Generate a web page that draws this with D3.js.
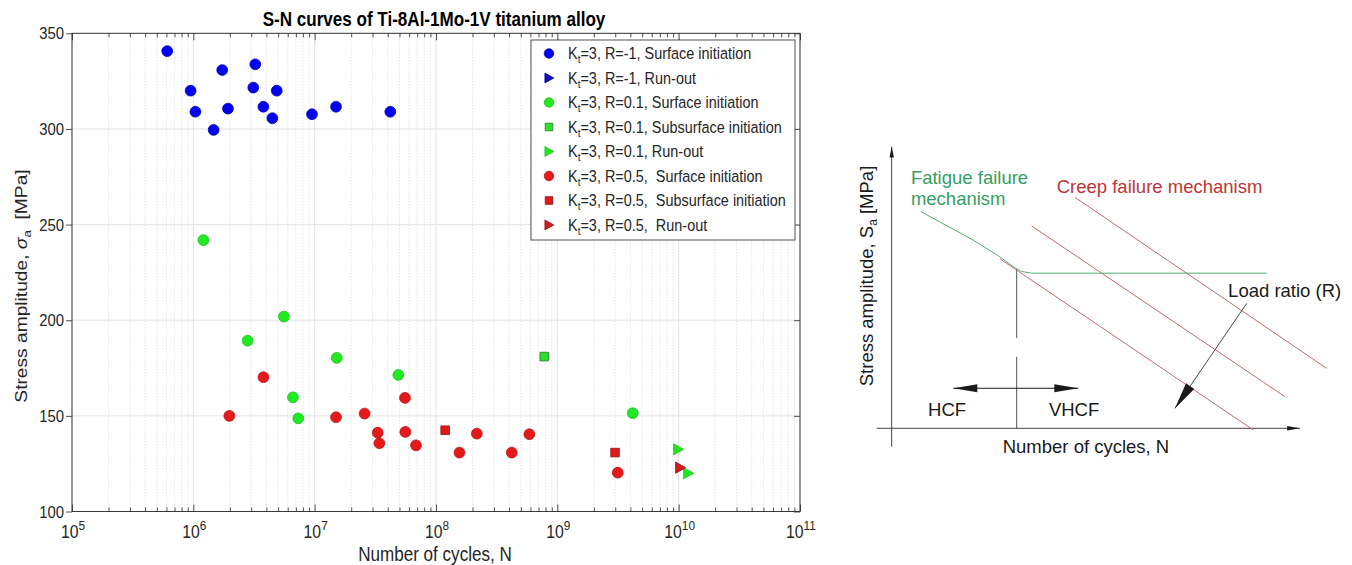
<!DOCTYPE html>
<html><head><meta charset="utf-8">
<script src="https://cdn.jsdelivr.net/npm/d3@7"></script>
<style>
body{margin:0;background:#fff;}
svg{display:block;font-family:"Liberation Sans",Arial,Helvetica,sans-serif;}
text{white-space:pre;}
</style></head><body>
<svg id="c" width="1352" height="565"></svg>
<script>
// ---------------- DATA (left chart) ----------------
const xTicks = [1e5, 1e6, 1e7, 1e8, 1e9, 1e10, 1e11];
const xTickExps = ["5", "6", "7", "8", "9", "10", "11"];
const yTicks = [100, 150, 200, 250, 300, 350];
// [cycles N, stress amplitude MPa]
const r1Surface = [[6.09e5,340.7],[9.5e5,320],[1.04e6,309],[1.47e6,299.5],[1.73e6,330.8],[1.93e6,310.6],[3.12e6,321.6],[3.24e6,333.8],[3.78e6,311.6],[4.48e6,305.6],[4.87e6,320],[9.5e6,307.7],[1.5e7,311.6],[4.2e7,309]];
const r1Runout = [];
const r01Surface = [[1.21e6,241.9],[2.8e6,189.3],[5.58e6,201.9],[6.62e6,159.7],[7.33e6,148.7],[1.52e7,180.3],[4.89e7,171.4],[4.18e9,151.4]];
const r01Subsurface = [[7.8e8,181]];
const r01Runout = [[9.9e9,132.5],[1.2e10,120]];
const r05Surface = [[3.78e6,170.2],[1.98e6,150],[1.5e7,149.3],[2.58e7,151.2],[5.55e7,159.4],[3.31e7,141.2],[3.41e7,135.7],[5.59e7,141.6],[6.84e7,134.6],[1.56e8,130.8],[2.17e8,140.7],[4.21e8,130.8],[5.88e8,140.4],[3.15e9,120.3]];
const r05Subsurface = [[1.19e8,142.5],[2.99e9,130.8]];
const r05Runout = [[1.03e10,122.9]];
const legendLabels = ["=3, R=-1, Surface initiation","=3, R=-1, Run-out","=3, R=0.1, Surface initiation","=3, R=0.1, Subsurface initiation","=3, R=0.1, Run-out","=3, R=0.5,  Surface initiation","=3, R=0.5,  Subsurface initiation","=3, R=0.5,  Run-out"];

// ---------------- DATA (schematic, abstract units) ----------------
const schemAxisX = [[-3.75,0],[102.1,0]];
const schemAxisY = [[0,-6.6],[0,100.6]];
const fatigueCurve = [[7.3,77.4],[20.4,67.2],[27.1,61.2],[30.5,57.6],[32.5,56.0],[35,55.4],[93.75,55.4]];
const creepLines = [[[27.1,60.5],[90.4,-0.6]],[[35,72.25],[98.3,11.3]],[[45.8,82.5],[108.75,21.4]]];
const transitionLine = [[[31.25,56.9],[31.25,32.25]],[[31.25,25.5],[31.25,0]]];
const regimeArrow = [[15.4,14.3],[46.65,14.3]];
const loadRatioArrow = [[88.75,44.6],[70.8,7.1]];

// ---------------- STYLES ----------------
const AX = "#262626";
const SQ = 0.875; // horizontal squeeze of left figure text
const series = [
  {data:r1Surface, shape:"circle", fill:"#0000f0", stroke:"#0000c0"},
  {data:r1Runout, shape:"tri", fill:"#1010c8", stroke:"#000080"},
  {data:r01Surface, shape:"circle", fill:"#22ea22", stroke:"#1cc01c"},
  {data:r01Subsurface, shape:"square", fill:"#30dc30", stroke:"#207a20"},
  {data:r01Runout, shape:"tri", fill:"#22e622", stroke:"#20c020"},
  {data:r05Surface, shape:"circle", fill:"#e41a1a", stroke:"#c01010"},
  {data:r05Subsurface, shape:"square", fill:"#e01818", stroke:"#901010"},
  {data:r05Runout, shape:"tri", fill:"#d41a1a", stroke:"#801010"}
];

const svg = d3.select("#c");
const M = {l:72, r:800, t:33.3, b:511.5};
const x = d3.scaleLog().domain([1e5,1e11]).range([M.l, M.r]);
const y = d3.scaleLinear().domain([100,350]).range([M.b, M.t]);
const isMajor = v => Math.abs(Math.log10(v) - Math.round(Math.log10(v))) < 1e-9;
const minorTicks = x.ticks().filter(v => !isMajor(v));

function squeeze(sel){
  sel.each(function(){
    const t = d3.select(this);
    const xv = +t.attr("x") || 0;
    t.attr("x", xv / SQ).attr("transform", `scale(${SQ},1)`);
  });
}

// grid
const grid = svg.append("g");
grid.selectAll("line.mi").data(minorTicks).join("line").attr("class","mi")
  .attr("x1",d=>x(d)).attr("x2",d=>x(d)).attr("y1",M.t).attr("y2",M.b)
  .attr("stroke","#cfcfcf").attr("stroke-width",0.8).attr("stroke-dasharray","1,2");
grid.selectAll("line.mx").data(xTicks).join("line").attr("class","mx")
  .attr("x1",d=>x(d)).attr("x2",d=>x(d)).attr("y1",M.t).attr("y2",M.b)
  .attr("stroke","#e2e2e2").attr("stroke-width",1);
grid.selectAll("line.my").data(yTicks).join("line").attr("class","my")
  .attr("x1",M.l).attr("x2",M.r).attr("y1",d=>y(d)).attr("y2",d=>y(d))
  .attr("stroke","#e2e2e2").attr("stroke-width",1);

// axes ticks
function styleAxis(g){ g.select(".domain").remove(); g.selectAll("line").attr("stroke",AX).attr("stroke-width",0.8); }
svg.append("g").attr("transform",`translate(0,${M.b})`).call(d3.axisBottom(x).tickValues(xTicks).tickSizeInner(-7).tickSizeOuter(0).tickFormat("")).call(styleAxis);
svg.append("g").attr("transform",`translate(0,${M.b})`).call(d3.axisBottom(x).tickValues(minorTicks).tickSizeInner(-4).tickSizeOuter(0).tickFormat("")).call(styleAxis);
svg.append("g").attr("transform",`translate(0,${M.t})`).call(d3.axisTop(x).tickValues(xTicks).tickSizeInner(-7).tickSizeOuter(0).tickFormat("")).call(styleAxis);
svg.append("g").attr("transform",`translate(0,${M.t})`).call(d3.axisTop(x).tickValues(minorTicks).tickSizeInner(-4).tickSizeOuter(0).tickFormat("")).call(styleAxis);
svg.append("g").attr("transform",`translate(${M.l},0)`).call(d3.axisLeft(y).tickValues(yTicks).tickSizeInner(6).tickSizeOuter(0).tickFormat("")).call(styleAxis);
svg.append("g").attr("transform",`translate(${M.r},0)`).call(d3.axisRight(y).tickValues(yTicks).tickSizeInner(-6).tickSizeOuter(0).tickFormat("")).call(styleAxis);
svg.append("rect").attr("x",M.l).attr("y",M.t).attr("width",M.r-M.l).attr("height",M.b-M.t)
  .attr("fill","none").attr("stroke",AX).attr("stroke-width",0.9);

// tick labels
svg.append("g").selectAll("text").data(yTicks).join("text")
  .attr("x",64).attr("y",d=>y(d)).attr("dy","0.36em").attr("text-anchor","end")
  .attr("font-size",17).attr("fill",AX).text(d=>d).call(squeeze);
const xl = svg.append("g").selectAll("text").data(xTicks).join("text")
  .attr("x",d=>x(d)+1).attr("y",538).attr("text-anchor","middle").attr("font-size",18).attr("fill",AX);
xl.append("tspan").text("10");
xl.append("tspan").attr("dy",-8).attr("font-size",13.5).text((d,i)=>xTickExps[i]);
xl.call(squeeze);

// title and axis labels
svg.append("text").attr("x",434).attr("y",26.5).attr("text-anchor","middle").attr("font-size",19.5)
  .attr("font-weight","bold").attr("fill","#000").text("S-N curves of Ti-8Al-1Mo-1V titanium alloy").call(squeeze);
svg.append("text").attr("x",435).attr("y",561).attr("text-anchor","middle").attr("font-size",19.5)
  .attr("fill",AX).text("Number of cycles, N").call(squeeze);
const yl = svg.append("text").attr("transform",`translate(27,286) scale(${SQ},1) rotate(-90)`)
  .attr("text-anchor","middle").attr("font-size",19.2).attr("fill",AX);
yl.append("tspan").text("Stress amplitude, ");
yl.append("tspan").attr("font-style","italic").text("σ");
yl.append("tspan").attr("dy",5).attr("font-size",13.5).text("a");
yl.append("tspan").attr("dy",-5).text("  [MPa]");

// markers
function markerPath(shape, cx, cy, k){
  if(shape==="circle"){ const r=5.4*k; return `M${cx-r},${cy}a${r},${r} 0 1,0 ${2*r},0a${r},${r} 0 1,0 ${-2*r},0Z`; }
  if(shape==="square"){ const h=4.3*k; return `M${cx-h},${cy-h}h${2*h}v${2*h}h${-2*h}Z`; }
  return `M${cx-4.6*k},${cy-5.6*k}L${cx+5.4*k},${cy}L${cx-4.6*k},${cy+5.6*k}Z`;
}
const marks = svg.append("g");
series.forEach(s=>{
  marks.append("g").selectAll("path").data(s.data).join("path")
    .attr("d",d=>markerPath(s.shape, x(d[0]), y(d[1]), 1))
    .attr("fill",s.fill).attr("stroke",s.stroke).attr("stroke-width",0.8);
});

// legend
const lg = svg.append("g");
lg.append("rect").attr("x",531).attr("y",40).attr("width",264).attr("height",200)
  .attr("fill","#fff").attr("stroke",AX).attr("stroke-width",0.8);
series.forEach((s,i)=>{
  const cy = 53.5 + i*24.5;
  lg.append("path").attr("d",markerPath(s.shape,549,cy,0.88)).attr("fill",s.fill).attr("stroke",s.stroke).attr("stroke-width",0.8);
  const t = lg.append("text").attr("x",568).attr("y",cy+6).attr("font-size",16.5).attr("fill",AX);
  t.append("tspan").text("K");
  t.append("tspan").attr("dy",4).attr("font-size",11.5).text("t");
  t.append("tspan").attr("dy",-4).text(legendLabels[i]);
  t.call(squeeze);
});

// ---------------- schematic ----------------
const sx = d3.scaleLinear().domain([0,100]).range([891.7,1291.7]);
const sy = d3.scaleLinear().domain([0,100]).range([428.3,148.3]);
const sc = svg.append("g");
const line = d3.line().x(d=>sx(d[0])).y(d=>sy(d[1]));
function arrowHead(g, from, to, L, W, color){
  const x1=sx(from[0]), y1=sy(from[1]), x2=sx(to[0]), y2=sy(to[1]);
  const dx=x2-x1, dy=y2-y1, len=Math.hypot(dx,dy), ux=dx/len, uy=dy/len;
  const bx=x2-ux*L, by=y2-uy*L;
  g.append("path").attr("d",`M${x2},${y2}L${bx-uy*W},${by+ux*W}L${bx+uy*W},${by-ux*W}Z`).attr("fill",color);
}
const K = "#1a1a1a";
sc.append("path").attr("d",line(schemAxisX)).attr("stroke","#444").attr("stroke-width",1).attr("fill","none");
sc.append("path").attr("d",line(schemAxisY)).attr("stroke","#444").attr("stroke-width",1).attr("fill","none");
arrowHead(sc, schemAxisX[0], schemAxisX[1], 13, 2.2, K);
arrowHead(sc, schemAxisY[0], schemAxisY[1], 11, 2.2, K);
transitionLine.forEach(seg=> sc.append("path").attr("d",line(seg)).attr("stroke","#555").attr("stroke-width",1).attr("fill","none"));
creepLines.forEach(seg=> sc.append("path").attr("d",line(seg)).attr("stroke","#c46a6a").attr("stroke-width",1).attr("fill","none"));
sc.append("path").attr("d",line(fatigueCurve))
  .attr("stroke","#4fae74").attr("stroke-width",1).attr("fill","none").attr("stroke-linejoin","round");
// regime arrow
sc.append("path").attr("d",line(regimeArrow)).attr("stroke",K).attr("stroke-width",1);
arrowHead(sc, regimeArrow[0], regimeArrow[1], 24, 4, K);
arrowHead(sc, regimeArrow[1], regimeArrow[0], 24, 4, K);
// load ratio arrow
sc.append("path").attr("d",line(loadRatioArrow)).attr("stroke","#333").attr("stroke-width",0.9);
arrowHead(sc, loadRatioArrow[0], loadRatioArrow[1], 27, 5, K);

const FS = 18.5;
function stext(t, ux, uy, color, anchor){
  return sc.append("text").attr("x",sx(ux)).attr("y",sy(uy)).attr("font-size",FS).attr("fill",color)
    .attr("text-anchor",anchor||"start").text(t);
}
stext("Fatigue failure", 4.8, 87.3, "#36a060");
stext("mechanism", 4.8, 79.75, "#36a060");
stext("Creep failure mechanism", 41.25, 83.9, "#c03434");
stext("Load ratio (R)", 84.1, 46.9, K);
stext("HCF", 9.1, 4.4, K);
stext("VHCF", 39.3, 4.4, K);
stext("Number of cycles, N", 27.75, -8.8, K);
const syl = sc.append("text").attr("transform",`translate(${sx(-4.7)},${sy(54.4)}) rotate(-90)`)
  .attr("text-anchor","middle").attr("font-size",FS).attr("fill",K);
syl.append("tspan").text("Stress amplitude, S");
syl.append("tspan").attr("dy",4).attr("font-size",12).text("a");
syl.append("tspan").attr("dy",-4).text(" [MPa]");
</script>
</body></html>
